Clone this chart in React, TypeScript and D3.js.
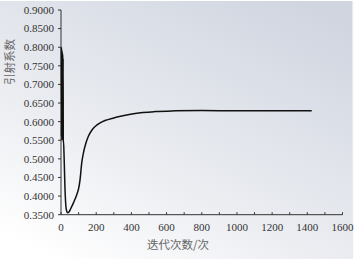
import React from "react";
import * as d3 from "d3";

const iterations = [2, 3, 4, 5, 6, 7, 8, 9, 10, 11, 12, 13, 14, 18, 22, 26, 31, 38, 45, 55, 70, 89, 100, 108, 118, 127, 140, 155, 175, 194, 220, 250, 300, 345, 421, 535, 649, 800, 1000, 1200, 1425];
const values = [0.8, 0.56, 0.795, 0.55, 0.79, 0.56, 0.785, 0.55, 0.78, 0.55, 0.77, 0.545, 0.55, 0.5, 0.43, 0.385, 0.362, 0.355, 0.357, 0.366, 0.381, 0.403, 0.42, 0.443, 0.49, 0.515, 0.54, 0.56, 0.577, 0.587, 0.596, 0.603, 0.61, 0.615, 0.622, 0.627, 0.629, 0.63, 0.629, 0.629, 0.629];
const yTicks = [0.35, 0.4, 0.45, 0.5, 0.55, 0.6, 0.65, 0.7, 0.75, 0.8, 0.85, 0.9];
const xTickLabels = [0, 200, 400, 600, 800, 1000, 1200, 1400, 1600];
const xMinorTicks = d3.range(0, 1601, 100);
const xTitle = "迭代次数/次";
const yTitle = "引射系数";

export default function App() {
  const W = 356, H = 259;
  const x = d3.scaleLinear().domain([0, 1600]).range([61, 342.5]);
  const y = d3.scaleLinear().domain([0.35, 0.9]).range([214.7, 10]);
  const data = iterations.map((it, i) => [it, values[i]] as [number, number]);
  const line = d3.line<[number, number]>().x(d => x(d[0])).y(d => y(d[1])).curve(d3.curveMonotoneX);
  const serif = "'Liberation Serif', 'DejaVu Serif', serif";
  const cjk = "'Noto Sans CJK SC', sans-serif";
  return (
    <svg width={W} height={H} style={{ position: "absolute", left: 0, top: 0, display: "block" }}>
      <defs>
        <linearGradient id="bg" x1="0.15" y1="1" x2="0.85" y2="0">
          <stop offset="0" stopColor="#ffffff" />
          <stop offset="0.35" stopColor="#eceef2" />
          <stop offset="1" stopColor="#d0d5e0" />
        </linearGradient>
      </defs>
      <rect x={0} y={1} width={353} height={H - 1} fill="url(#bg)" />
      <rect x={352} y={1} width={1.2} height={H - 1} fill="#e8ebf0" />
      {/* axes */}
      <line x1={x(0)} x2={x(0)} y1={y(0.9)} y2={y(0.35)} stroke="#333" strokeWidth={1} />
      <line x1={x(0)} x2={x(1600)} y1={y(0.35)} y2={y(0.35)} stroke="#333" strokeWidth={1} />
      {yTicks.map(t => (
        <g key={t}>
          <line x1={x(0) - 3} x2={x(0)} y1={y(t)} y2={y(t)} stroke="#333" strokeWidth={1} />
          <text x={x(0) - 7} y={y(t)} dy="0.35em" textAnchor="end" fontFamily={serif} fontSize={11} fill="#333">
            {t.toFixed(4)}
          </text>
        </g>
      ))}
      {xMinorTicks.map(t => (
        <line key={t} x1={x(t)} x2={x(t)} y1={y(0.35)} y2={y(0.35) - 2.5} stroke="#333" strokeWidth={1} />
      ))}
      {xTickLabels.map(t => (
        <text key={t} x={x(t)} y={227.5} dy="0.35em" textAnchor="middle" fontFamily={serif} fontSize={11} fill="#333">
          {t}
        </text>
      ))}
      <text x={178} y={245} dy="0.35em" textAnchor="middle" fontFamily={cjk} fontSize={11.5} fill="#666">
        {xTitle}
      </text>
      <text transform="translate(10,62) rotate(-90)" dy="0.35em" textAnchor="middle" fontFamily={cjk} fontSize={11.5} fill="#666">
        {yTitle}
      </text>
      <path d={line(data) || ""} fill="none" stroke="#111" strokeWidth={1.5} />
    </svg>
  );
}
